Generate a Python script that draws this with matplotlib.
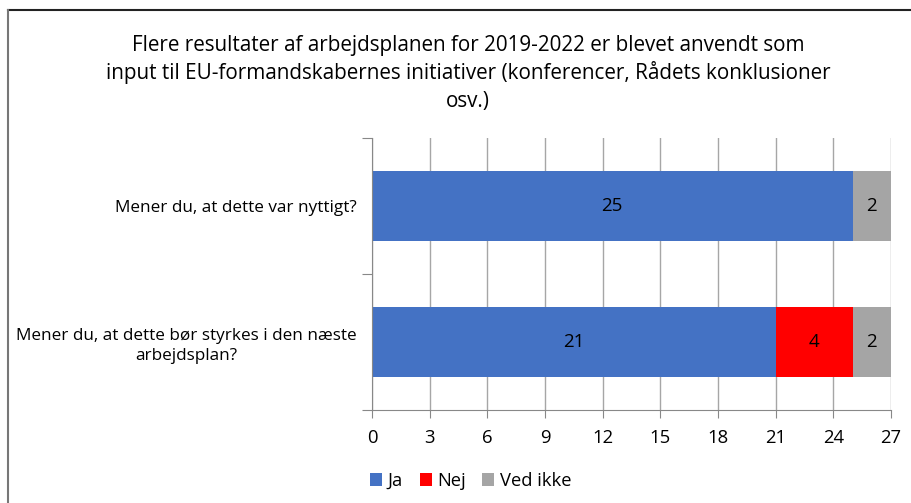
import matplotlib
matplotlib.use("Agg")
import matplotlib.pyplot as plt
from matplotlib.lines import Line2D

categories = ["Mener du, at dette var nyttigt?",
              "Mener du, at dette bør styrkes i den næste\narbejdsplan?"]
series_names = ["Ja", "Nej", "Ved ikke"]
ja = [25, 21]
nej = [0, 4]
ved_ikke = [2, 2]
colors = ["#4472C4", "#FF0000", "#A5A5A5"]
xticks = [0, 3, 6, 9, 12, 15, 18, 21, 24, 27]
title_lines = ["Flere resultater af arbejdsplanen for 2019-2022 er blevet anvendt som",
               "input til EU-formandskabernes initiativer (konferencer, Rådets konklusioner",
               "osv.)"]

plt.rcParams['font.family'] = ['Open Sans', 'DejaVu Sans']
W, H = 912, 503
fig = plt.figure(figsize=(W/100, H/100), dpi=100)
# partial chart frame (top and left edges visible)
fig.add_artist(Line2D([8.5/W, 1], [1-9.5/H, 1-9.5/H], transform=fig.transFigure,
                      color="#222222", linewidth=1.5))
fig.add_artist(Line2D([8.5/W, 8.5/W], [0, 1-9.5/H], transform=fig.transFigure,
                      color="#777777", linewidth=1.5))

ax = fig.add_axes([372/W, 1-410/H, (891-372)/W, (410-138)/H])
y = list(range(len(categories)))
left = [0]*len(categories)
for vals, name, c in zip([ja, nej, ved_ikke], series_names, colors):
    ax.barh(y, vals, left=left, height=0.52, color=c, label=name)
    for i, (v, l) in enumerate(zip(vals, left)):
        if v > 0:
            ax.text(l + v/2, i, str(v), ha="center", va="center", fontsize=13.5, color="black")
    left = [a+b for a, b in zip(left, vals)]

ax.set_xlim(0, 27)
ax.set_ylim(1.5, -0.5)
ax.set_xticks(xticks)
ax.set_xticklabels([str(t) for t in xticks], fontsize=13.3)
ax.set_yticks([-0.5, 0.5, 1.5], minor=False)
ax.set_yticklabels([])
ax.set_yticks(y, minor=True)
ax.set_yticklabels(categories, minor=True, fontsize=12.3, ha="right", linespacing=1.3)
ax.tick_params(axis="y", which="minor", length=0, pad=11)
ax.tick_params(axis="y", which="major", length=7, color="#888888")
ax.tick_params(axis="x", length=6, color="#888888", pad=8)
for lbl in ax.get_yticklabels(minor=True):
    lbl.set_multialignment("center")
ax.grid(axis="x", color="#A6A6A6", linewidth=1)
ax.set_axisbelow(True)
for s in ["top", "right"]:
    ax.spines[s].set_visible(False)
for s in ["left", "bottom"]:
    ax.spines[s].set_color("#888888")

for k, line in enumerate(title_lines):
    fig.text(468/W, 1-(45+28*k)/H, line, ha="center", va="center", fontsize=14.9)

handles, labels = ax.get_legend_handles_labels()
fig.legend(handles, labels, loc="center left", bbox_to_anchor=(354/W, 1-481/H),
           ncol=3, frameon=False, fontsize=13.2, handlelength=0.65, handleheight=0.65,
           handletextpad=0.3, columnspacing=0.9)

fig.savefig("out.png", dpi=100)
